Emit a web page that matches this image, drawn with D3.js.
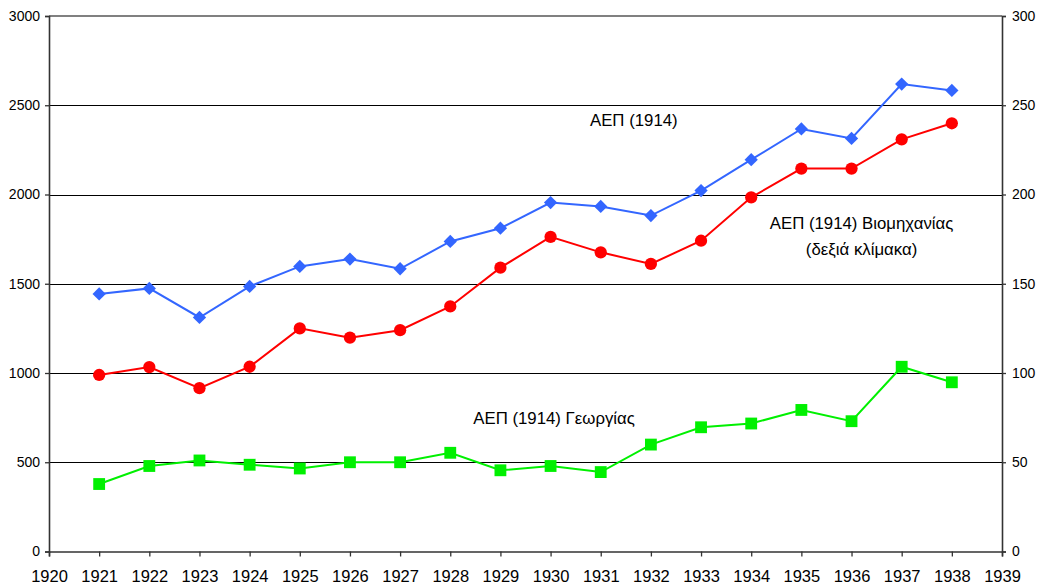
<!DOCTYPE html>
<html><head><meta charset="utf-8">
<script src="https://cdn.jsdelivr.net/npm/d3@7"></script>
<style>body{margin:0;background:#fff}svg{display:block;font-family:"Liberation Sans",Arial,sans-serif}</style>
</head><body><svg id="c" width="1039" height="587"></svg>
<script>
const years = [1921,1922,1923,1924,1925,1926,1927,1928,1929,1930,1931,1932,1933,1934,1935,1936,1937,1938];
const gdp = [1443,1474,1311,1485,1597,1638,1584,1737,1811,1955,1933,1882,2022,2195,2367,2314,2619,2583];
const industry = [98.9,103.3,91.5,103.5,125,119.8,124,137.3,159,176.3,167.6,161.1,174.1,198.4,214.5,214.5,230.9,239.9];
const agriculture = [378,479,510,486,465,500,500,553,455,479,445,599,696,717,793,730,1035,948];
const leftTicks = [0,500,1000,1500,2000,2500,3000];
const rightTicks = [0,50,100,150,200,250,300];
const xTicks = d3.range(1920,1940);
const labels = [
  {text:"ΑΕΠ (1914)", x:1931.66, y:2384},
  {text:"ΑΕΠ (1914) Βιομηχανίας", x:1936.2, y:1807},
  {text:"(δεξιά κλίμακα)", x:1936.2, y:1661},
  {text:"ΑΕΠ (1914) Γεωργίας", x:1930.07, y:715}
];

const svg = d3.select("#c");
const L=49, R=1002, T=16, B=551.5;
const x = d3.scaleLinear().domain([1920,1939]).range([L,R]);
const yL = d3.scaleLinear().domain([0,3000]).range([B,T]);
const yR = d3.scaleLinear().domain([0,300]).range([B,T]);

// gridlines
svg.append("g").selectAll("line").data(leftTicks.filter(d=>d>0 && d<3000)).join("line")
  .attr("x1",L).attr("x2",R).attr("y1",d=>Math.round(yL(d))+0.5).attr("y2",d=>Math.round(yL(d))+0.5)
  .attr("stroke","#000").attr("stroke-width",1);
svg.append("line").attr("x1",L).attr("x2",R).attr("y1",yL(3000)).attr("y2",yL(3000))
  .attr("stroke","#808080").attr("stroke-width",2);

// axes
const ax = svg.append("g").attr("transform",`translate(0,${B})`)
  .call(d3.axisBottom(x).tickValues(xTicks).tickFormat(d3.format("d")).tickSize(5).tickPadding(14));
const ay = svg.append("g").attr("transform",`translate(${L},0)`)
  .call(d3.axisLeft(yL).tickValues(leftTicks).tickFormat(d3.format("d")).tickSize(4).tickPadding(5));
const ayr = svg.append("g").attr("transform",`translate(${R},0)`)
  .call(d3.axisRight(yR).tickValues(rightTicks).tickFormat(d3.format("d")).tickSize(4).tickPadding(6));
[ax,ay,ayr].forEach(g=>{
  g.select(".domain").attr("stroke","#333").attr("stroke-width",1.6);
  g.selectAll(".tick line").attr("stroke","#333").attr("stroke-width",1.3);
  g.selectAll("text").attr("fill","#000").attr("font-family","'Liberation Sans', Arial, sans-serif");
});
ax.selectAll("text").attr("font-size",16.5);
ay.selectAll("text").attr("font-size",14);
ayr.selectAll("text").attr("font-size",14);

function series(vals, yS, color, shape){
  const line = d3.line().x((d,i)=>x(years[i])).y(d=>yS(d));
  svg.append("path").datum(vals).attr("d",line).attr("fill","none").attr("stroke",color).attr("stroke-width",2);
  const g = svg.append("g");
  const sym = d3.symbol().type(shape==="circle"?d3.symbolCircle:d3.symbolSquare)
    .size(shape==="diamond"?88:shape==="circle"?118:140);
  g.selectAll("path").data(vals).join("path")
    .attr("d",sym)
    .attr("transform",(d,i)=>`translate(${x(years[i])},${yS(d)})`+(shape==="diamond"?" rotate(45)":""))
    .attr("fill",color);
}
series(gdp,yL,"#3366FF","diamond");
series(industry,yR,"#FF0000","circle");
series(agriculture,yL,"#00F000","square");

svg.append("g").selectAll("text").data(labels).join("text")
  .attr("x",d=>x(d.x)).attr("y",d=>yL(d.y)).attr("text-anchor","middle")
  .attr("font-family","'Liberation Sans', Arial, sans-serif")
  .attr("font-size",16.8).attr("fill","#000").text(d=>d.text);
</script></body></html>
